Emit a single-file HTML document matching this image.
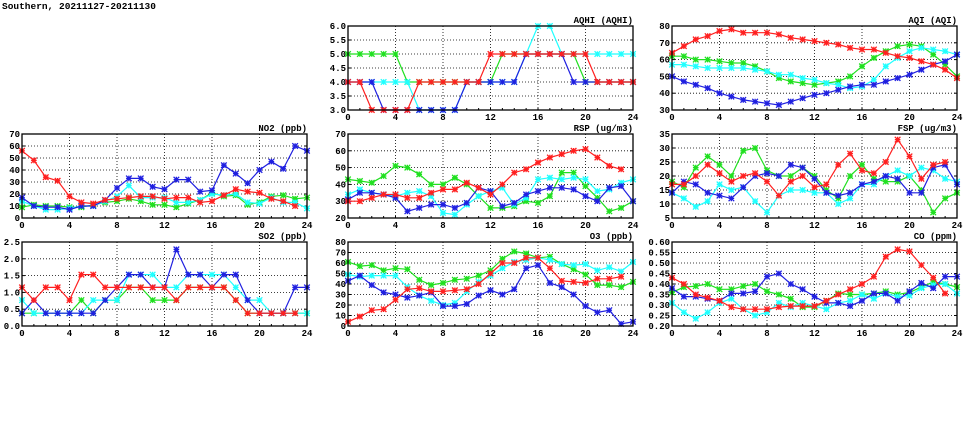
<!DOCTYPE html>
<html><head><meta charset="utf-8"><style>
html,body{margin:0;padding:0;background:#fff;width:975px;height:447px;overflow:hidden}
svg text{font-family:"Liberation Mono","DejaVu Sans Mono",monospace;font-weight:bold;font-size:9px;fill:#000}
</style></head><body>
<svg id="s" width="975" height="447" xmlns="http://www.w3.org/2000/svg">
<text x="2" y="9" style="font-size:9.5px">Southern, 20211127-20211130</text>
</svg>
<script>
var S=document.getElementById('s'),out='';
var C={r:'#ff2020',g:'#20e020',c:'#20ffff',b:'#2020e0'};
function P(x0,y0,title,ymin,ymax,ystep,dec,data){
 var w=285,h=84;
 function X(i){return x0+i*w/24}
 function Y(v){return y0+h-(v-ymin)/(ymax-ymin)*h}
 var g='';
 var n=Math.round((ymax-ymin)/ystep);
 for(var k=0;k<=n;k++){var v=ymin+k*ystep,y=Y(v);
  if(k>0&&k<n)g+='<line x1="'+x0+'" x2="'+(x0+w)+'" y1="'+y+'" y2="'+y+'" stroke="#000" stroke-width="0.8" stroke-dasharray="1,2"/>';
  g+='<line x1="'+x0+'" x2="'+(x0+3)+'" y1="'+y+'" y2="'+y+'" stroke="#000"/><line x1="'+(x0+w-3)+'" x2="'+(x0+w)+'" y1="'+y+'" y2="'+y+'" stroke="#000"/>';
  g+='<text x="'+(x0-2)+'" y="'+(y+3)+'" text-anchor="end">'+v.toFixed(dec)+'</text>';}
 for(var t=0;t<=24;t+=4){var x=X(t);
  if(t>0&&t<24)g+='<line x1="'+x+'" x2="'+x+'" y1="'+y0+'" y2="'+(y0+h)+'" stroke="#000" stroke-width="0.8" stroke-dasharray="1,2"/>';
  g+='<text x="'+x+'" y="'+(y0+h+10)+'" text-anchor="middle">'+t+'</text>';}
 for(var t=0;t<=24;t++){var x=X(t);g+='<line x1="'+x+'" x2="'+x+'" y1="'+(y0+h)+'" y2="'+(y0+h-2)+'" stroke="#000"/>';}
 ['g','c','b','r'].forEach(function(k){var d=data[k];if(!d)return;var pts=d.map(function(v,i){return X(i).toFixed(1)+','+Y(v).toFixed(1)}).join(' ');
  g+='<polyline points="'+pts+'" fill="none" stroke="'+C[k]+'" stroke-width="1.2"/>';
  d.forEach(function(v,i){var x=X(i),y=Y(v),s=2.8;g+='<path d="M'+(x-s)+' '+(y-s)+'L'+(x+s)+' '+(y+s)+'M'+(x-s)+' '+(y+s)+'L'+(x+s)+' '+(y-s)+'M'+(x-s)+' '+y+'L'+(x+s)+' '+y+'M'+x+' '+(y-s)+'L'+x+' '+(y+s)+'" stroke="'+C[k]+'" stroke-width="1.3"/>';});});
 g+='<rect x="'+x0+'" y="'+y0+'" width="'+w+'" height="'+h+'" fill="none" stroke="#000" stroke-width="1.3"/>';
 g+='<text x="'+(x0+w)+'" y="'+(y0-3)+'" text-anchor="end">'+title+'</text>';
 out+=g;}
var c1=22,c2=348,c3=672,r1=26,r2=134,r3=242;
P(c2,r1,'AQHI (AQHI)',3,6,0.5,1,{
r:[4,4,3,3,3,3,4,4,4,4,4,4,5,5,5,5,5,5,5,5,5,4,4,4,4],
b:[4,4,4,3,3,3,3,3,3,3,4,4,4,4,4,5,5,5,5,4,4,4,4,4,4],
g:[5,5,5,5,5,4,4,4,4,4,4,4,4,5,5,5,5,5,5,5,4,4,4,4,4],
c:[4,4,4,4,4,4,3,3,3,3,4,4,4,4,4,5,6,6,5,5,5,5,5,5,5]});
P(c3,r1,'AQI (AQI)',30,80,10,0,{
r:[64,68,72,74,77,78,76,76,76,75,73,72,71,70,69,67,66,66,64,62,61,59,57,54,49],
g:[62,62,60,60,59,58,58,56,53,49,47,46,45,46,47,50,56,61,65,68,69,68,63,57,50],
c:[57,57,56,55,55,55,55,54,53,51,51,49,48,46,45,43,44,48,56,61,65,67,66,65,63],
b:[50,47,45,43,40,38,36,35,34,33,35,37,39,40,42,44,45,45,47,49,51,54,57,59,63]});
P(c1,r2,'NO2 (ppb)',0,70,10,0,{
r:[56,48,34,31,18,13,12,15,16,17,18,18,16,17,17,13,14,19,24,22,21,16,14,10],
b:[17,10,9,9,7,10,10,15,25,33,33,26,24,32,32,22,23,44,37,29,40,47,41,60,56],
c:[14,10,7,7,8,10,10,14,18,27,17,17,17,13,13,15,20,19,20,13,12,17,13,13,8],
g:[9,11,10,10,9,9,11,13,14,16,14,11,11,9,12,15,21,18,19,11,13,18,19,16,17]});
P(c2,r2,'RSP (ug/m3)',20,70,10,0,{
r:[30,30,32,34,34,32,32,35,37,37,41,38,34,40,47,49,53,56,58,60,61,56,51,49],
g:[43,42,41,45,51,50,46,40,40,44,40,33,26,26,27,30,29,33,47,47,39,32,24,26,30],
c:[34,37,35,34,33,35,36,33,23,22,28,33,36,38,28,32,43,44,43,44,43,36,37,41,43],
b:[31,35,35,34,32,24,26,28,28,26,29,38,36,27,29,34,36,38,38,37,33,30,38,39,30]});
P(c3,r2,'FSP (ug/m3)',5,35,5,0,{
r:[17,17,20,24,21,18,20,21,18,13,18,20,16,17,24,28,22,21,25,33,27,19,24,25],
g:[18,16,23,27,24,20,29,30,22,20,20,23,20,15,12,20,24,19,18,18,20,15,7,12,14],
c:[14,12,9,11,17,15,16,11,7,13,15,15,14,14,10,12,17,17,20,22,20,23,22,19,18],
b:[14,18,17,14,13,12,16,20,21,20,24,23,19,14,13,14,17,18,20,19,14,14,23,24,17]});
P(c1,r3,'SO2 (ppb)',0,2.5,0.5,1,{
r:[1.15,0.77,1.15,1.15,0.77,1.53,1.53,1.15,1.15,1.15,1.15,1.15,1.15,0.77,1.15,1.15,1.15,1.15,0.77,0.38,0.38,0.38,0.38,0.38],
b:[0.38,0.77,0.38,0.38,0.38,0.38,0.38,0.77,1.15,1.53,1.53,1.15,1.15,2.28,1.53,1.53,1.15,1.53,1.53,0.77,0.38,0.38,0.38,1.15,1.15],
c:[0.77,0.38,0.38,0.38,0.38,0.38,0.77,0.77,0.77,1.53,1.53,1.53,1.15,1.15,1.53,1.53,1.53,1.53,1.15,0.77,0.77,0.38,0.38,0.38,0.38],
g:[0.38,0.38,0.38,0.38,0.38,0.77,0.38,0.77,0.77,1.15,1.15,0.77,0.77,0.77,1.15,1.15,1.15,1.15,0.77,0.38,0.38,0.38,0.38,0.38,0.38]});
P(c2,r3,'O3 (ppb)',0,80,10,0,{
r:[4,9,15,16,25,35,36,33,33,34,35,40,50,60,60,65,65,55,43,42,41,45,45,47],
g:[61,57,58,53,55,54,44,39,41,44,45,48,53,64,71,69,65,66,59,54,49,39,39,37,42],
c:[49,47,48,48,48,37,29,24,20,22,33,42,48,55,61,63,65,63,59,58,59,53,56,52,61],
b:[43,48,39,32,30,27,29,32,19,19,21,29,34,30,35,55,58,41,37,30,19,13,15,2,4]});
P(c3,r3,'CO (ppm)',0.2,0.6,0.05,2,{
r:[.43,.40,.35,.335,.32,.29,.28,.28,.28,.29,.295,.295,.295,.32,.35,.375,.40,.435,.53,.565,.555,.49,.43,.355],
g:[.36,.385,.39,.40,.375,.375,.39,.40,.365,.35,.33,.29,.29,.32,.355,.35,.35,.355,.365,.35,.36,.385,.41,.40,.385],
c:[.31,.265,.235,.265,.31,.33,.28,.25,.265,.31,.29,.31,.295,.28,.31,.32,.35,.33,.355,.34,.345,.38,.395,.40,.355],
b:[.38,.34,.34,.33,.32,.355,.355,.365,.435,.45,.40,.375,.34,.31,.31,.295,.32,.355,.355,.32,.365,.405,.38,.435,.435]});
S.insertAdjacentHTML('beforeend',out);
</script>
</body></html>
